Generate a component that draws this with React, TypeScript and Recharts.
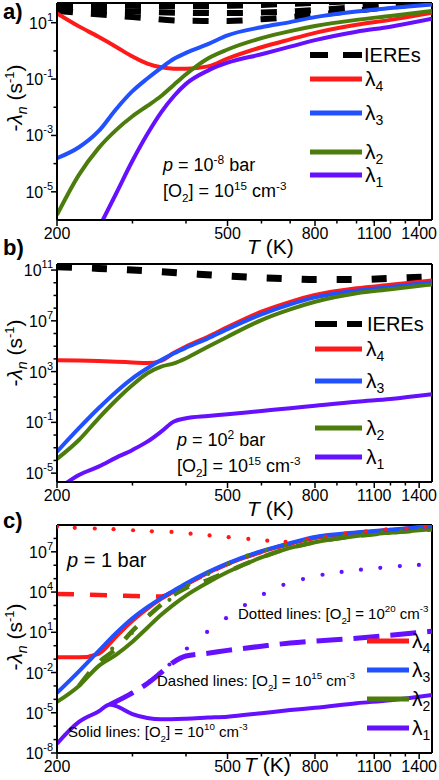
import { LineChart, Line, XAxis, YAxis, ReferenceLine } from 'recharts';

const FONT = '"Liberation Sans", Arial, Helvetica, sans-serif';
const W = 439;
const RED = '#ff1a1a';
const BLUE = '#2150ff';
const GREEN = '#4c7d0c';
const PURPLE = '#6510ff';

// temperature axis (log scale), same for all three panels
const X_DOMAIN = [200, 1500];
const X_MAJOR = [200, 500, 800, 1100, 1400];
const X_MINOR = [300, 400, 600, 700, 900, 1000, 1200, 1300];

// ---- panel a : p = 1e-8 bar, [O2] = 1e15 cm-3 ----
const T_A = [200, 225, 250, 275, 300, 325, 350, 375, 400, 450, 500, 600, 700, 800, 1000, 1200, 1500];
const L4_A = [21.4, 7.41, 3.16, 1.38, 0.631, 0.355, 0.263, 0.234, 0.234, 0.282, 0.537, 1.35, 2.57, 4.37, 8.51, 12.6, 22.4];
const L3_A = [1.55e-4, 3.8e-4, 1.41e-3, 8.71e-3, 3.72e-2, 0.105, 0.251, 0.525, 0.851, 1.74, 3.55, 6.92, 10.5, 15.8, 25.1, 33.1, 44.7];
const L2_A = [1.51e-6, 3.98e-5, 3.55e-4, 1.58e-3, 4.79e-3, 1.12e-2, 2.51e-2, 6.31e-2, 0.148, 0.537, 1.12, 2.82, 5.01, 7.59, 12.6, 17.4, 26.3];
const T_L1_A = [250, 275, 300, 325, 350, 375, 400, 450, 500, 600, 700, 800, 1000, 1200, 1500];
const L1_A = [5.01e-7, 8.91e-6, 1.26e-4, 1.12e-3, 6.61e-3, 2.51e-2, 6.76e-2, 0.2, 0.38, 0.759, 1.41, 2.4, 4.79, 7.24, 13.8];
const T_IERE_A = [200, 300, 400, 500, 600, 700, 800, 1000, 1200, 1500];
const IERE1_A = [41.7, 39.8, 38.0, 39.8, 42.7, 46.8, 50.1, 58.9, 67.6, 79.4];
const IERE2_A = [31.6, 25.1, 22.4, 21.9, 22.9, 25.1, 28.2, 35.5, 43.7, 57.5];
const IERE3_A = [26.3, 15.8, 11.7, 11.5, 13.2, 15.8, 19.1, 26.9, 36.3, 52.5];
const Y_DOMAIN_A = [1e-6, 50];
const Y_MAJOR_A = [1e-5, 1e-3, 1e-1, 1e1];
const Y_LABEL_A = ['-5', '-3', '-1', '1'];
const Y_MINOR_A = [1e-4, 1e-2, 1];

// ---- panel b : p = 1e2 bar, [O2] = 1e15 cm-3 ----
const T_B = [200, 225, 250, 275, 300, 325, 350, 375, 400, 450, 500, 600, 700, 800, 1000, 1200, 1500];
const L4_B = [7.94e3, 7.41e3, 6.76e3, 6.03e3, 5.25e3, 4.68e3, 7.08e3, 3.02e4, 9.55e4, 5.62e5, 3.16e6, 5.25e7, 3.16e8, 1.07e9, 3.63e9, 6.92e9, 1.51e10];
const L3_B = [4.9e-4, 3.47e-2, 1.29, 26.3, 295, 1.82e3, 8.13e3, 2.75e4, 7.59e4, 4.17e5, 2.24e6, 3.24e7, 2.0e8, 7.08e8, 2.34e9, 4.57e9, 1.07e10];
const L2_B = [1.32e-4, 4.07e-3, 0.209, 5.75, 87.1, 741, 2.45e3, 4.47e3, 1.12e4, 9.12e4, 5.62e5, 1.15e7, 7.94e7, 3.16e8, 1.48e9, 3.02e9, 7.41e9];
const L1_B = [5.01e-7, 7.24e-6, 3.24e-5, 1.66e-4, 6.76e-4, 3.02e-3, 1.86e-2, 0.115, 0.209, 0.316, 0.437, 0.794, 1.29, 2.04, 4.27, 6.92, 16.2];
const T_IERE_B = [200, 250, 300, 350, 400, 500, 600, 700, 800, 1000, 1200, 1500];
const IERE_B = [1.82e11, 1.35e11, 1e11, 7.41e10, 5.5e10, 3.39e10, 2.51e10, 2.09e10, 1.82e10, 1.82e10, 2.19e10, 2.95e10];
const Y_DOMAIN_B = [2e-6, 3e11];
const Y_MAJOR_B = [1e-5, 1e-1, 1e3, 1e7, 1e11];
const Y_LABEL_B = ['-5', '-1', '3', '7', '11'];
const Y_MINOR_B = [1e-4, 1e-3, 1e-2, 1, 10, 100, 1e4, 1e5, 1e6, 1e8, 1e9, 1e10];

// ---- panel c : p = 1 bar, three O2 levels ----
const T_C = [200, 225, 250, 275, 300, 325, 350, 375, 400, 450, 500, 600, 700, 800, 1000, 1200, 1500];
// solid: [O2] = 1e10
const L4_C_SOLID = [0.135, 0.135, 0.251, 4.9, 72.4, 589, 3.09e3, 1.15e4, 3.8e4, 2.63e5, 1.23e6, 1e7, 3.98e7, 1.12e8, 2.51e8, 4.17e8, 7.59e8];
const L3_C_SOLID = [3.02e-4, 1.23e-2, 0.398, 8.91, 110, 741, 3.55e3, 1.32e4, 4.37e4, 3.09e5, 1.38e6, 1.12e7, 4.47e7, 1.26e8, 2.82e8, 4.47e8, 8.32e8];
const L2_C_SOLID = [6.46e-5, 1e-3, 3.02e-2, 0.219, 2.0, 21.9, 200, 1.2e3, 5.37e3, 5.13e4, 3.09e5, 3.8e6, 1.95e7, 5.25e7, 1.51e8, 2.69e8, 4.79e8];
const T_L1_C_SOLID = [200, 225, 250, 266, 275, 300, 325, 350, 400, 450, 500, 600, 700, 800, 1000, 1200, 1500];
const L1_C_SOLID = [5.01e-8, 2.09e-6, 1.26e-5, 4.17e-5, 3.09e-5, 7.94e-6, 4.07e-6, 3.24e-6, 3.63e-6, 4.37e-6, 5.13e-6, 9.33e-6, 1.58e-5, 2.34e-5, 5.13e-5, 8.71e-5, 2.14e-4];
// dashed: [O2] = 1e15
const L4_C_DASH = [7.24e3, 6.76e3, 6.03e3, 5.5e3, 5.13e3, 4.79e3, 4.57e3, 1.2e4, 3.8e4, 2.63e5, 1.23e6, 1e7, 3.98e7, 1.12e8, 2.51e8, 4.17e8, 7.59e8];
const T_L2_C_DASH = [225, 250, 275, 300, 325, 350, 375, 400, 450, 500, 600, 700, 800, 1000, 1200, 1500];
const L2_C_DASH = [1e-3, 5.5e-2, 0.603, 12.6, 141, 1.12e3, 6.31e3, 2.0e4, 7.94e4, 3.31e5, 3.8e6, 1.95e7, 5.25e7, 1.51e8, 2.69e8, 4.79e8];
const T_L1_C_DASH = [266, 300, 325, 350, 375, 400, 450, 500, 600, 700, 800, 1000, 1200, 1500];
const L1_C_DASH = [4.17e-5, 3.02e-4, 1.51e-3, 1e-2, 6.31e-2, 0.17, 0.275, 0.447, 0.912, 1.58, 2.24, 3.63, 6.03, 12.0];
// dotted: [O2] = 1e20 (one value per dot)
const T_L4_C_DOT = [200, 220, 245, 271, 301, 333, 370, 410, 454, 503, 559, 619, 683, 766, 848, 941, 1052, 1172, 1308, 1448];
const L4_C_DOT = [7.41e8, 6.17e8, 5.5e8, 4.9e8, 4.07e8, 3.39e8, 3.02e8, 2.24e8, 1.66e8, 1.23e8, 9.12e7, 6.76e7, 5.62e7, 9.12e7, 1.38e8, 2.24e8, 3.39e8, 4.68e8, 5.5e8, 7.41e8];
const T_L2_C_DOT = [269, 299, 330, 366, 405, 451, 502, 556, 616, 683, 758, 841, 932, 1034, 1147, 1272, 1410];
const L2_C_DOT = [0.603, 8.91, 240, 2.63e3, 3.39e4, 2.29e5, 1.23e6, 5.13e6, 1.35e7, 3.31e7, 6.31e7, 1e8, 1.48e8, 2.14e8, 2.95e8, 3.8e8, 5.01e8];
const T_L1_C_DOT = [266, 298, 330, 366, 402, 448, 496, 549, 608, 675, 750, 833, 923, 1024, 1136, 1262, 1398];
const L1_C_DOT = [4.17e-5, 2.82e-4, 2.29e-3, 3.98e-2, 0.617, 10.7, 112, 1.07e3, 7.24e3, 3.47e4, 9.33e4, 1.95e5, 3.16e5, 4.68e5, 6.46e5, 8.71e5, 1.05e6];
const Y_DOMAIN_C = [1e-8, 1e9];
const Y_MAJOR_C = [1e-8, 1e-5, 1e-2, 1e1, 1e4, 1e7];
const Y_LABEL_C = ['-8', '-5', '-2', '1', '4', '7'];
const Y_MINOR_C = [1e-7, 1e-6, 1e-4, 1e-3, 1e-1, 1, 100, 1000, 1e5, 1e6, 1e8];

const LAMBDA_IDX = ['4', '3', '2', '1'];

const pts = (t: number[], v: number[]) => t.map((T, i) => ({ T, v: v[i] }));

type Series = { data: { T: number; v: number }[]; color: string; width?: number; dash?: string; dot?: boolean };

const seriesA: Series[] = [
  { data: pts(T_IERE_A, IERE1_A), color: '#000', width: 6, dash: '16 18' },
  { data: pts(T_IERE_A, IERE2_A), color: '#000', width: 6, dash: '16 18' },
  { data: pts(T_IERE_A, IERE3_A), color: '#000', width: 6, dash: '16 18' },
  { data: pts(T_A, L4_A), color: RED },
  { data: pts(T_A, L3_A), color: BLUE },
  { data: pts(T_A, L2_A), color: GREEN },
  { data: pts(T_L1_A, L1_A), color: PURPLE },
];

const seriesB: Series[] = [
  { data: pts(T_IERE_B, IERE_B), color: '#000', width: 7, dash: '15 20' },
  { data: pts(T_B, L4_B), color: RED },
  { data: pts(T_B, L3_B), color: BLUE },
  { data: pts(T_B, L2_B), color: GREEN },
  { data: pts(T_B, L1_B), color: PURPLE },
];

const seriesC: Series[] = [
  { data: pts(T_C, L4_C_SOLID), color: RED },
  { data: pts(T_C, L4_C_DASH), color: RED, width: 4.5, dash: '17 16' },
  { data: pts(T_C, L2_C_SOLID), color: GREEN },
  { data: pts(T_L2_C_DASH, L2_C_DASH), color: GREEN, width: 4.5, dash: '17 16' },
  { data: pts(T_C, L3_C_SOLID), color: BLUE },
  { data: pts(T_L1_C_SOLID, L1_C_SOLID), color: PURPLE },
  { data: pts(T_L1_C_DASH, L1_C_DASH), color: PURPLE, width: 5, dash: '26 11' },
  { data: pts(T_L4_C_DOT, L4_C_DOT), color: RED, dot: true },
  { data: pts(T_L2_C_DOT, L2_C_DOT), color: GREEN, dot: true },
  { data: pts(T_L1_C_DOT, L1_C_DOT), color: PURPLE, dot: true },
];

const XTick = (p: any) => {
  const major = X_MAJOR.includes(p.payload.value);
  return (
    <g>
      <line x1={p.x} x2={p.x} y1={p.y} y2={p.y + (major ? 6 : 3.5)} stroke="#000" strokeWidth={1.5} />
      {major && (
        <text x={p.x} y={p.y + 19} textAnchor="middle" fontSize={16} fontFamily={FONT} fill="#000">
          {p.payload.value}
        </text>
      )}
    </g>
  );
};

const makeYTick = (major: number[], labels: string[]) => (p: any) => {
  const i = major.indexOf(p.payload.value);
  return (
    <g>
      <line x1={p.x} x2={p.x - (i >= 0 ? 6 : 3.5)} y1={p.y} y2={p.y} stroke="#000" strokeWidth={1.5} />
      {i >= 0 && (
        <text x={p.x - 4} y={p.y + 6} textAnchor="end" fontSize={16} fontFamily={FONT} fill="#000">
          10<tspan dy={-8} fontSize={11}>{labels[i]}</tspan>
        </text>
      )}
    </g>
  );
};

function Panel(props: {
  top: number; height: number; margin: any; yDomain: number[];
  yMajor: number[]; yLabels: string[]; yMinor: number[]; series: Series[];
}) {
  const { top, height, margin, yDomain, yMajor, yLabels, yMinor, series } = props;
  return (
    <div style={{ position: 'absolute', left: 0, top }}>
      <LineChart width={W} height={height} margin={margin}>
        <XAxis
          dataKey="T" type="number" scale="log" domain={X_DOMAIN} allowDataOverflow
          ticks={[...X_MAJOR, ...X_MINOR]} interval={0} tick={XTick}
          tickLine={false} tickSize={0} tickMargin={0} height={24}
          axisLine={{ stroke: '#000', strokeWidth: 2 }}
        />
        <YAxis
          type="number" scale="log" domain={yDomain} allowDataOverflow
          ticks={[...yMajor, ...yMinor]} interval={0} tick={makeYTick(yMajor, yLabels)}
          tickLine={false} tickSize={0} tickMargin={0} width={57}
          axisLine={{ stroke: '#000', strokeWidth: 2 }}
        />
        <ReferenceLine y={yDomain[1]} stroke="#000" strokeWidth={2} ifOverflow="visible" />
        <ReferenceLine x={X_DOMAIN[1]} stroke="#000" strokeWidth={2} ifOverflow="visible" />
        {series.map((s, i) => (
          <Line
            key={i}
            data={s.data}
            dataKey="v"
            type="monotone"
            stroke={s.dot ? 'none' : s.color}
            strokeWidth={s.width ?? 4}
            strokeDasharray={s.dash}
            dot={s.dot ? { r: 2.1, fill: s.color, stroke: 'none' } : false}
            activeDot={false}
            isAnimationActive={false}
          />
        ))}
      </LineChart>
    </div>
  );
}

const YTitle = ({ x, y }: { x: number; y: number }) => (
  <text transform={`translate(${x},${y}) rotate(-90)`} textAnchor="middle" fontSize={21} fontFamily={FONT}>
    -<tspan fontStyle="italic">λ</tspan>
    <tspan dy={5} fontSize={14} fontStyle="italic">n</tspan>
    <tspan dy={-5}> (s</tspan>
    <tspan dy={-8} fontSize={13}>-1</tspan>
    <tspan dy={8}>)</tspan>
  </text>
);

const XTitle = ({ x, y }: { x: number; y: number }) => (
  <text x={x} y={y} fontSize={21} fontFamily={FONT}>
    <tspan fontStyle="italic">T</tspan> (K)
  </text>
);

const Lam = ({ x, y, n }: { x: number; y: number; n: string }) => (
  <text x={x} y={y} fontSize={21} fontFamily={FONT}>
    λ<tspan dy={5} fontSize={14}>{n}</tspan>
  </text>
);

const O2 = ({ x, y, exp, size, prefix }: { x: number; y: number; exp: string; size: number; prefix?: string }) => (
  <text x={x} y={y} fontSize={size} fontFamily={FONT}>
    {prefix}[O<tspan dy={5} fontSize={size * 0.65}>2</tspan>
    <tspan dy={-5}>] = 10</tspan>
    <tspan dy={-7} fontSize={size * 0.65}>{exp}</tspan>
    <tspan dy={7}> cm</tspan>
    <tspan dy={-7} fontSize={size * 0.65}>-3</tspan>
  </text>
);

const COLORS = [RED, BLUE, GREEN, PURPLE];

function Overlay() {
  const legA = [79, 113, 152, 175];
  const legB = [349, 381, 428, 457];
  const legC = [641, 670, 699, 728];
  return (
    <svg width={W} height={780} style={{ position: 'absolute', left: 0, top: 0, pointerEvents: 'none' }}>
      {/* panel letters */}
      <text x={3} y={19} fontSize={22} fontWeight="bold" fontFamily={FONT}>a)</text>
      <text x={3} y={255} fontSize={22} fontWeight="bold" fontFamily={FONT}>b)</text>
      <text x={3} y={528} fontSize={22} fontWeight="bold" fontFamily={FONT}>c)</text>

      <YTitle x={22} y={98} />
      <YTitle x={22} y={353} />
      <YTitle x={22} y={637} />
      <XTitle x={247} y={254} />
      <XTitle x={247} y={516} />
      <XTitle x={244} y={772} />

      {/* panel a legend */}
      <line x1={310} x2={328} y1={55} y2={55} stroke="#000" strokeWidth={6} />
      <line x1={343} x2={362} y1={55} y2={55} stroke="#000" strokeWidth={6} />
      <text x={364} y={62} fontSize={20} fontFamily={FONT}>IEREs</text>
      {legA.map((y, i) => (
        <g key={'a' + i}>
          <line x1={310} x2={362} y1={y} y2={y} stroke={COLORS[i]} strokeWidth={5} />
          <Lam x={365} y={y + 7} n={LAMBDA_IDX[i]} />
        </g>
      ))}
      <text x={163} y={171} fontSize={18} fontFamily={FONT}>
        <tspan fontStyle="italic">p</tspan> = 10<tspan dy={-7} fontSize={12}>-8</tspan>
        <tspan dy={7}> bar</tspan>
      </text>
      <O2 x={163} y={197} exp="15" size={18} />

      {/* panel b legend */}
      <line x1={315} x2={337} y1={324} y2={324} stroke="#000" strokeWidth={6} />
      <line x1={347} x2={362} y1={324} y2={324} stroke="#000" strokeWidth={6} />
      <text x={367} y={331} fontSize={20} fontFamily={FONT}>IEREs</text>
      {legB.map((y, i) => (
        <g key={'b' + i}>
          <line x1={315} x2={362} y1={y} y2={y} stroke={COLORS[i]} strokeWidth={5} />
          <Lam x={366} y={y + 7} n={LAMBDA_IDX[i]} />
        </g>
      ))}
      <text x={177} y={446} fontSize={18} fontFamily={FONT}>
        <tspan fontStyle="italic">p</tspan> = 10<tspan dy={-7} fontSize={12}>2</tspan>
        <tspan dy={7}> bar</tspan>
      </text>
      <O2 x={177} y={472} exp="15" size={18} />

      {/* panel c legend and notes */}
      {legC.map((y, i) => (
        <g key={'c' + i}>
          <line x1={367} x2={409} y1={y} y2={y} stroke={COLORS[i]} strokeWidth={5} />
          <Lam x={412} y={y + 7} n={LAMBDA_IDX[i]} />
        </g>
      ))}
      <text x={67} y={567} fontSize={20} fontFamily={FONT}>
        <tspan fontStyle="italic">p</tspan> = 1 bar
      </text>
      <O2 x={238} y={619} exp="20" size={15} prefix="Dotted lines: " />
      <O2 x={157} y={686} exp="15" size={15} prefix="Dashed lines: " />
      <O2 x={68} y={737} exp="10" size={15} prefix="Solid lines: " />
    </svg>
  );
}

export default function App() {
  return (
    <div style={{ position: 'absolute', left: 0, top: 0, width: W, height: 780, background: '#fff' }}>
      <Panel
        top={0} height={250} margin={{ top: 3, right: 7, bottom: 6, left: 0 }}
        yDomain={Y_DOMAIN_A} yMajor={Y_MAJOR_A} yLabels={Y_LABEL_A} yMinor={Y_MINOR_A} series={seriesA}
      />
      <Panel
        top={250} height={260} margin={{ top: 14, right: 7, bottom: 4, left: 0 }}
        yDomain={Y_DOMAIN_B} yMajor={Y_MAJOR_B} yLabels={Y_LABEL_B} yMinor={Y_MINOR_B} series={seriesB}
      />
      <Panel
        top={510} height={270} margin={{ top: 15, right: 7, bottom: 3, left: 0 }}
        yDomain={Y_DOMAIN_C} yMajor={Y_MAJOR_C} yLabels={Y_LABEL_C} yMinor={Y_MINOR_C} series={seriesC}
      />
      <Overlay />
    </div>
  );
}
